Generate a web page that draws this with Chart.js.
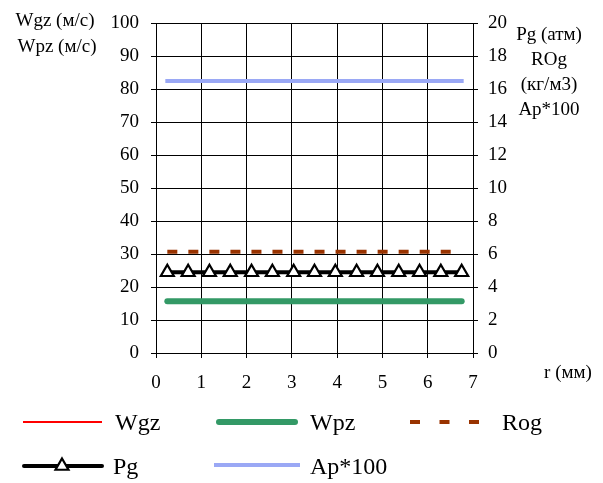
<!DOCTYPE html>
<html>
<head>
<meta charset="utf-8">
<script src="https://cdn.jsdelivr.net/npm/chart.js@4/dist/chart.umd.min.js"></script>
<style>
  html, body { margin: 0; padding: 0; background: #fff; }
  canvas { display: block; }
</style>
</head>
<body>
<canvas id="chart" width="603" height="483"></canvas>
<script>
// radius, mm
var r = [0.25, 0.71, 1.18, 1.64, 2.11, 2.57, 3.04, 3.5, 3.96, 4.43, 4.89, 5.36, 5.82, 6.29, 6.75];
// left axis, m/s
var wgz = [15.7, 15.7, 15.7, 15.7, 15.7, 15.7, 15.7, 15.7, 15.7, 15.7, 15.7, 15.7, 15.7, 15.7, 15.7];
var wpz = [15.7, 15.7, 15.7, 15.7, 15.7, 15.7, 15.7, 15.7, 15.7, 15.7, 15.7, 15.7, 15.7, 15.7, 15.7];
// right axis
var rog = [6.15, 6.15, 6.15, 6.15, 6.15, 6.15, 6.15, 6.15, 6.15, 6.15, 6.15, 6.15, 6.15, 6.15, 6.15];
var pg = [4.9, 4.9, 4.9, 4.9, 4.9, 4.9, 4.9, 4.9, 4.9, 4.9, 4.9, 4.9, 4.9, 4.9, 4.9];
var ap100 = [16.5, 16.5, 16.5, 16.5, 16.5, 16.5, 16.5, 16.5, 16.5, 16.5, 16.5, 16.5, 16.5, 16.5, 16.5];

var leftTitle = ["Wgz (м/с)", "Wpz (м/с)"];
var rightTitle = ["Pg (атм)", "ROg", "(кг/м3)", "Ap*100"];
var xTitle = "r (мм)";

var FONT = "'Liberation Serif', 'Times New Roman', serif";

function pts(ys) {
  return r.map(function (x, i) { return { x: x, y: ys[i] }; });
}

// where each legend entry sits (sample line from x0 to x1, text at tx)
var legendSlots = [
  { x0: 23, x1: 102, y: 422, tx: 115, ty: 430 },
  { x0: 219, x1: 295, y: 422, tx: 310, ty: 430 },
  { x0: 410, x1: 480, y: 422, tx: 502, ty: 430, dash: [10, 19.5] },
  { x0: 24, x1: 102, y: 466, tx: 113, ty: 474, mx: 62 },
  { x0: 216, x1: 298, y: 465, tx: 310, ty: 474 }
];

var decorPlugin = {
  id: "decor",
  afterDraw: function (chart) {
    var ctx = chart.ctx;
    ctx.save();
    ctx.fillStyle = "#000";
    ctx.textAlign = "center";
    ctx.textBaseline = "middle";
    ctx.font = "19px " + FONT;
    ctx.fillText(leftTitle[0], 55, 21);
    ctx.fillText(leftTitle[1], 57, 47);
    rightTitle.forEach(function (t, i) {
      ctx.fillText(t, 549, 35 + i * 25);
    });
    ctx.fillText(xTitle, 568, 373);

    // legend
    chart.data.datasets.forEach(function (ds, i) {
      var s = legendSlots[i];
      ctx.beginPath();
      ctx.setLineDash(s.dash || ds.borderDash || []);
      ctx.lineCap = ds.borderCapStyle || "butt";
      ctx.lineWidth = ds.borderWidth;
      ctx.strokeStyle = ds.borderColor;
      ctx.moveTo(s.x0, s.y);
      ctx.lineTo(s.x1, s.y);
      ctx.stroke();
      ctx.setLineDash([]);
      if (s.mx) {
        ctx.fillStyle = ds.pointBackgroundColor;
        ctx.strokeStyle = ds.pointBorderColor;
        ctx.lineWidth = ds.pointBorderWidth;
        Chart.helpers.drawPoint(ctx, { pointStyle: ds.pointStyle, radius: ds.pointRadius, borderWidth: ds.pointBorderWidth }, s.mx, s.y);
      }
      ctx.fillStyle = "#000";
      ctx.textAlign = "left";
      ctx.textBaseline = "alphabetic";
      ctx.font = "24px " + FONT;
      ctx.fillText(ds.label, s.tx, s.ty);
    });
    ctx.restore();
  }
};

var tickFont = { family: FONT, size: 19 };

new Chart(document.getElementById("chart"), {
  type: "line",
  data: {
    datasets: [
      { label: "Wgz", data: pts(wgz), yAxisID: "y", borderColor: "#ff0000", borderWidth: 2, pointRadius: 0, order: 5 },
      { label: "Wpz", data: pts(wpz), yAxisID: "y", borderColor: "#339966", borderWidth: 6, borderCapStyle: "round", pointRadius: 0, order: 2 },
      { label: "Rog", data: pts(rog), yAxisID: "y2", borderColor: "#993300", borderWidth: 4, borderDash: [10, 11.03], pointRadius: 0, order: 3 },
      { label: "Pg", data: pts(pg), yAxisID: "y2", borderColor: "#000000", borderWidth: 4, borderCapStyle: "round",
        pointStyle: "triangle", pointRadius: 7.5, pointBorderWidth: 2.2, pointBackgroundColor: "#ffffff", pointBorderColor: "#000000", order: 1 },
      { label: "Ap*100", data: pts(ap100), yAxisID: "y2", borderColor: "#9aa8f5", borderWidth: 4, borderCapStyle: "square", pointRadius: 0, order: 4 }
    ]
  },
  options: {
    responsive: false,
    animation: false,
    events: [],
    layout: { padding: { top: 19, bottom: 85, left: 0, right: 0 } },
    plugins: { legend: { display: false }, tooltip: { enabled: false } },
    scales: {
      x: {
        type: "linear", min: 0, max: 7,
        ticks: { stepSize: 1, color: "#000", font: tickFont, padding: 14 },
        grid: { color: "#000", lineWidth: 1, tickLength: 5 },
        border: { color: "#000", width: 1 },
        afterFit: function (s) { s.height = 45; }
      },
      y: {
        position: "left", min: 0, max: 100,
        ticks: { stepSize: 10, color: "#000", font: tickFont, padding: 12 },
        grid: { color: "#000", lineWidth: 1, tickLength: 5 },
        border: { color: "#000", width: 1 },
        afterFit: function (s) { s.width = 156; }
      },
      y2: {
        position: "right", min: 0, max: 20,
        ticks: { stepSize: 2, color: "#000", font: tickFont, padding: 10 },
        grid: { drawOnChartArea: false, color: "#000", lineWidth: 1, tickLength: 5 },
        border: { color: "#000", width: 1 },
        afterFit: function (s) { s.width = 130; }
      }
    }
  },
  plugins: [decorPlugin]
});
</script>
</body>
</html>
